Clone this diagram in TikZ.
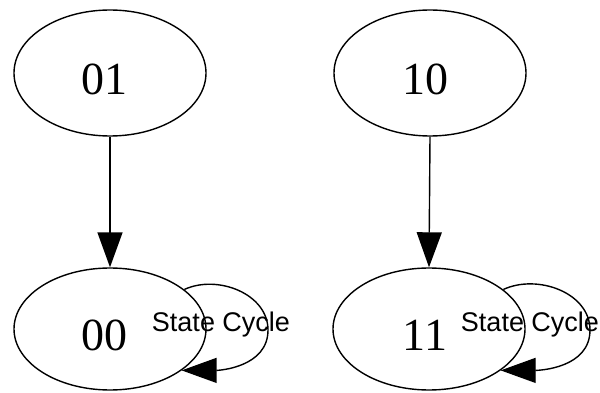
\documentclass[tikz,border=0pt]{standalone}
\usepackage{fontspec}
\setmainfont{Liberation Serif}
\newfontfamily\lblfont{Liberation Sans}
\usetikzlibrary{arrows.meta,shapes.geometric}
\begin{document}
\begin{tikzpicture}[x=1pt,y=-1pt,
  state/.style={draw, ellipse, line width=1.4pt, minimum width=192pt, minimum height=126pt, inner sep=0pt},
  num/.style={inner sep=0pt, font=\fontsize{46}{50}\selectfont},
  lbl/.style={inner sep=0pt, font=\lblfont\fontsize{27}{30}\selectfont},
  edge/.style={line width=1.4pt, -{Triangle[width=25pt,length=35pt]}}]
\useasboundingbox (0,0) rectangle (600,393);
\node[state] (a) at (110,73) {};
\node[state] (b) at (430,73) {};
\node[state, minimum height=122pt] (c) at (110,329) {};
\node[state, minimum height=122pt] (d) at (429,329) {};
\node[num] (ta) at (104,79) {01};
\node[num] (tb) at (425,79) {10};
\node[num] (tc) at (104,335) {00};
\node[num] (td) at (425,335) {11};
\draw[edge] (a.south) -- (c.north);
\draw[edge] (b.south) -- (d.north);
\coordinate (rc) at (268,330);
\coordinate (rd) at (590,330);
\draw[edge] (c.28) to[out=25,in=90] (rc) to[out=-90,in=0] (c.-30);
\draw[edge] (d.28) to[out=25,in=90] (rd) to[out=-90,in=0] (d.-30);
\node[lbl] (lc) at (221,325) {State Cycle};
\node[lbl] (ld) at (530,325) {State Cycle};
\end{tikzpicture}
\end{document}
